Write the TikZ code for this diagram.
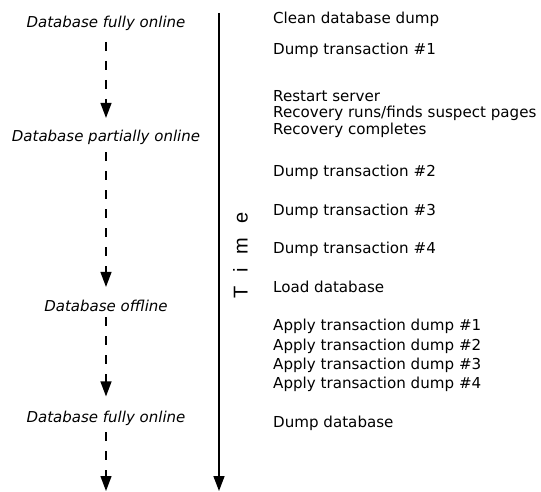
\documentclass[tikz,border=0pt]{standalone}
\usepackage{fontspec}
\setmainfont{DejaVu Sans}[ItalicFont={DejaVu Sans Oblique}]
\newfontfamily\timefont{Liberation Sans}
\usetikzlibrary{arrows.meta}
\begin{document}
\begin{tikzpicture}[x=1pt,y=-1pt,
  state/.style={font=\fontsize{15}{18}\selectfont\itshape, inner sep=0pt, anchor=base},
  event/.style={font=\fontsize{15.1}{18}\selectfont, inner sep=0pt, anchor=base west},
  flow/.style={dash pattern=on 9pt off 10pt, line width=1.3pt, -{Triangle[width=11pt,length=15pt]}},
  axis/.style={line width=1.5pt, -{Triangle[width=11pt,length=15pt]}}]
\useasboundingbox (0,0) rectangle (541,492);
% states
\node[state] (s1) at (106,27.5) {Database fully online};
\node[state] (s2) at (106,142) {Database partially online};
\node[state] (s3) at (106,311) {Database offline};
\node[state] (s4) at (106,422) {Database fully online};
\coordinate (send) at (106,491);
\draw[flow, shorten <=11pt, shorten >=12.5pt] (s1) -- (s2);
\draw[flow, shorten <=7pt, shorten >=12.5pt] (s2) -- (s3);
\draw[flow, shorten <=6pt, shorten >=14pt] (s3) -- (s4);
\draw[flow, shorten <=7pt] (s4) -- (send);
% time axis
\coordinate (t0) at (219,13);
\coordinate (t1) at (219,491);
\draw[axis] (t0) -- (t1);
\node[rotate=90, font=\timefont\fontsize{20}{24}\selectfont, inner sep=0pt] (time) at (240.5,255.5) {T\hspace{14pt}i\hspace{14pt}m\hspace{14pt}e};
% events
\node[event] (e1) at (273,24) {Clean database dump};
\node[event] (e2) at (273,55) {Dump transaction \#1};
\node[event] (e3) at (273,102) {Restart server};
\node[event] (e4) at (273,118) {Recovery runs/finds suspect pages};
\node[event] (e5) at (273,135) {Recovery completes};
\node[event] (e6) at (273,177) {Dump transaction \#2};
\node[event] (e7) at (273,215) {Dump transaction \#3};
\node[event] (e8) at (273,253) {Dump transaction \#4};
\node[event] (e9) at (273,292) {Load database};
\node[event] (e10) at (273,330) {Apply transaction dump \#1};
\node[event] (e11) at (273,350) {Apply transaction dump \#2};
\node[event] (e12) at (273,369) {Apply transaction dump \#3};
\node[event] (e13) at (273,388) {Apply transaction dump \#4};
\node[event] (e14) at (273,427) {Dump database};
\end{tikzpicture}
\end{document}
